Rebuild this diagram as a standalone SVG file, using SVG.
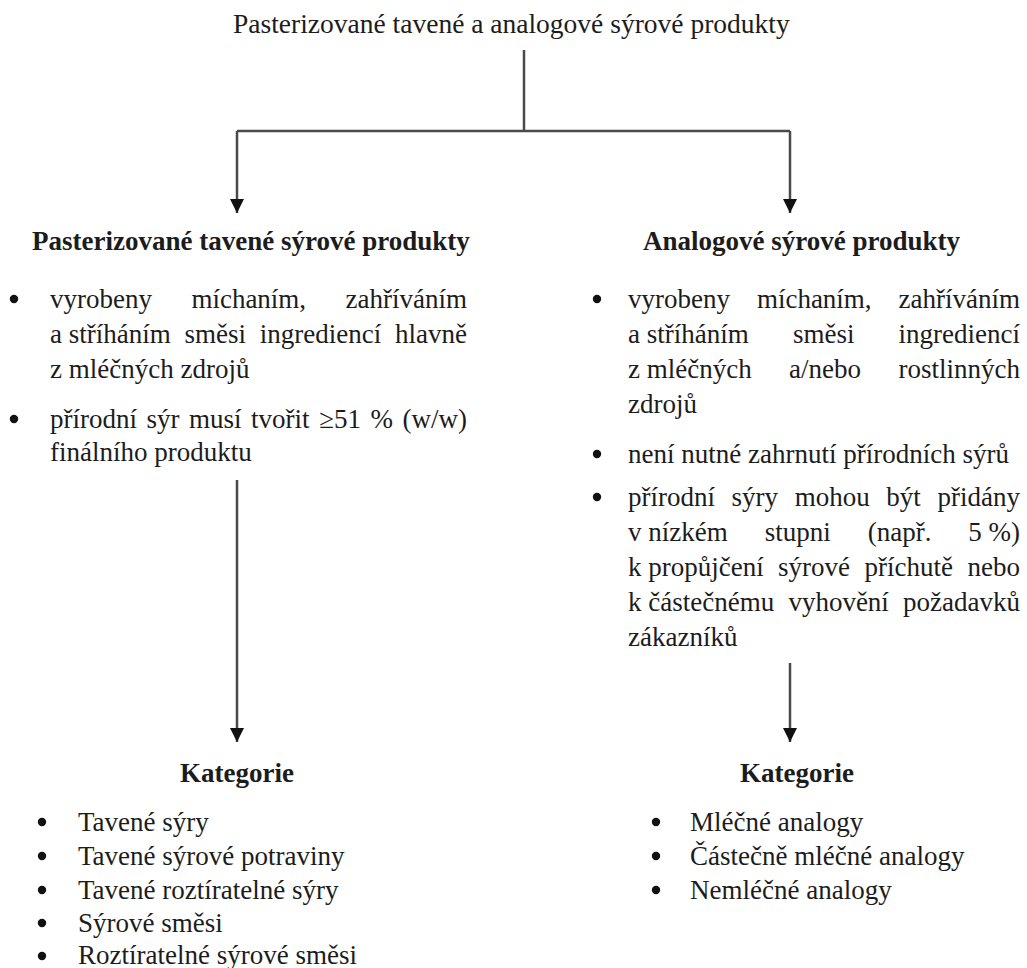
<svg xmlns="http://www.w3.org/2000/svg" width="1027" height="968" viewBox="0 0 1027 968">
<defs>
<style>
text{font-family:"Liberation Serif","Times New Roman",serif;font-size:27px;fill:#1c1c1c}
.b{font-weight:bold}
.dot{fill:#111}
.ln{stroke:#4a4a4a;stroke-width:2.5;fill:none}
</style>
<marker id="ah" markerUnits="userSpaceOnUse" markerWidth="16" markerHeight="14" refX="14" refY="7" orient="auto">
<path d="M0,0 L14,7 L0,14 Z" fill="#111"/>
</marker>
</defs>
<rect width="1027" height="968" fill="#fff"/>

<g id="connectors">
<path class="ln" d="M524,50 V131"/>
<path class="ln" d="M237,131 H790"/>
<path class="ln" d="M237,131 V213" marker-end="url(#ah)"/>
<path class="ln" d="M790,131 V213" marker-end="url(#ah)"/>
<path class="ln" d="M237,480 V742" marker-end="url(#ah)"/>
<path class="ln" d="M790,663 V742" marker-end="url(#ah)"/>
</g>

<g id="title">
<text x="233" y="33" style="font-size:27.5px">Pasterizované tavené a analogové sýrové produkty</text>
</g>

<g id="left-node">
<text class="b" x="32" y="250">Pasterizované tavené sýrové produkty</text>
<circle class="dot" cx="14" cy="299" r="4.2"/>
<text y="308"><tspan x="50">vyrobeny</tspan><tspan x="191.4">míchaním,</tspan><tspan x="345.5">zahříváním</tspan></text>
<text y="343"><tspan x="50">a stříháním</tspan><tspan x="184.5">směsi</tspan><tspan x="259.8">ingrediencí</tspan><tspan x="395">hlavně</tspan></text>
<text x="50" y="378">z mléčných zdrojů</text>
<circle class="dot" cx="14" cy="419" r="4.2"/>
<text y="428"><tspan x="50">přírodní</tspan><tspan x="146.5">sýr</tspan><tspan x="189.1">musí</tspan><tspan x="251.1">tvořit</tspan><tspan x="319.2">≥51</tspan><tspan x="370.5">%</tspan><tspan x="402.5">(w/w)</tspan></text>
<text x="50" y="461">finálního produktu</text>
</g>

<g id="right-node">
<text class="b" x="643" y="250">Analogové sýrové produkty</text>
<circle class="dot" cx="597" cy="299" r="4.2"/>
<text y="308"><tspan x="628">vyrobeny</tspan><tspan x="756.9">míchaním,</tspan><tspan x="898.5">zahříváním</tspan></text>
<text y="343"><tspan x="628">a stříháním</tspan><tspan x="792.9">směsi</tspan><tspan x="898.5">ingrediencí</tspan></text>
<text y="378"><tspan x="628">z mléčných</tspan><tspan x="789.1">a/nebo</tspan><tspan x="898.5">rostlinných</tspan></text>
<text x="628" y="413">zdrojů</text>
<circle class="dot" cx="597" cy="454" r="4.2"/>
<text x="628" y="463">není nutné zahrnutí přírodních sýrů</text>
<circle class="dot" cx="597" cy="497" r="4.2"/>
<text y="506"><tspan x="628">přírodní</tspan><tspan x="731.6">sýry</tspan><tspan x="794.7">mohou</tspan><tspan x="886.3">být</tspan><tspan x="937.5">přidány</tspan></text>
<text y="541"><tspan x="628">v nízkém</tspan><tspan x="764.7">stupni</tspan><tspan x="867.7">(např.</tspan><tspan x="968.3">5 %)</tspan></text>
<text y="576"><tspan x="628">k propůjčení</tspan><tspan x="778.1">sýrové</tspan><tspan x="864.6">příchutě</tspan><tspan x="967.5">nebo</tspan></text>
<text y="611"><tspan x="628">k částečnému</tspan><tspan x="788.4">vyhovění</tspan><tspan x="903">požadavků</tspan></text>
<text x="628" y="646">zákazníků</text>
</g>

<g id="left-categories">
<text class="b" x="237" y="782" text-anchor="middle">Kategorie</text>
<circle class="dot" cx="42" cy="822" r="4.2"/>
<text x="78" y="831">Tavené sýry</text>
<circle class="dot" cx="42" cy="856" r="4.2"/>
<text x="78" y="865">Tavené sýrové potraviny</text>
<circle class="dot" cx="42" cy="890" r="4.2"/>
<text x="78" y="899">Tavené roztíratelné sýry</text>
<circle class="dot" cx="42" cy="923" r="4.2"/>
<text x="78" y="932">Sýrové směsi</text>
<circle class="dot" cx="42" cy="956" r="4.2"/>
<text x="78" y="964">Roztíratelné sýrové směsi</text>
</g>

<g id="right-categories">
<text class="b" x="797" y="782" text-anchor="middle">Kategorie</text>
<circle class="dot" cx="656" cy="822" r="4.2"/>
<text x="690" y="831">Mléčné analogy</text>
<circle class="dot" cx="656" cy="856" r="4.2"/>
<text x="690" y="865">Částečně mléčné analogy</text>
<circle class="dot" cx="656" cy="890" r="4.2"/>
<text x="690" y="899">Nemléčné analogy</text>
</g>
</svg>
